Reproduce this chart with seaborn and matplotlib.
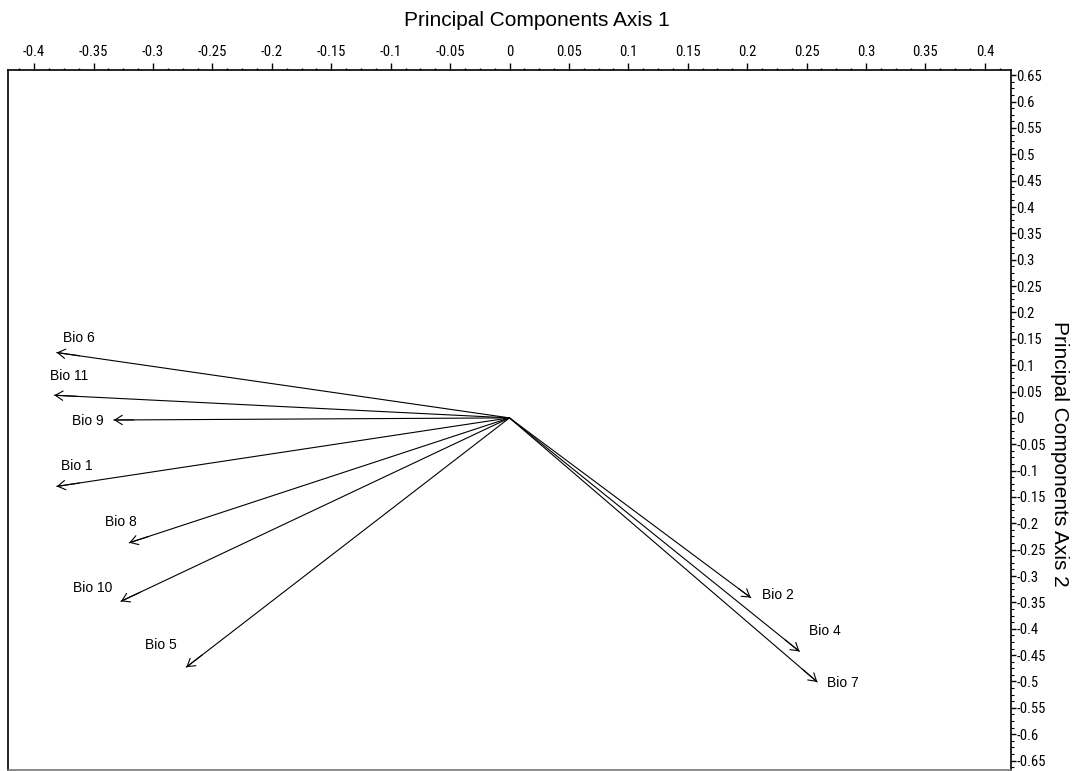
import matplotlib
matplotlib.use("Agg")
import matplotlib.pyplot as plt
from matplotlib import font_manager
from matplotlib.ticker import MultipleLocator, FixedLocator, FuncFormatter
import numpy as np
import pandas as pd
import seaborn as sns

# Loadings of the bioclimatic variables on the first two principal components
variables = ["Bio 6", "Bio 11", "Bio 9", "Bio 1", "Bio 8", "Bio 10", "Bio 5",
             "Bio 2", "Bio 4", "Bio 7"]
pc1 = [-0.381, -0.383, -0.333, -0.381, -0.320, -0.327, -0.272, 0.203, 0.244, 0.259]
pc2 = [0.124, 0.043, -0.004, -0.130, -0.237, -0.348, -0.473, -0.341, -0.443, -0.501]

# Label placement relative to each arrow tip (pixels) and alignment
label_dx = [6, -4, -10, 4, -24, -48, -41, 11, 10, 10]
label_dy = [15, 19, -1, 20, 21, 13, 22, 3, 20, -1]
label_ha = ["left", "left", "right", "left", "left", "left", "left", "left", "left", "left"]

x_ticks = np.round(np.arange(-0.4, 0.4001, 0.05), 2)
y_ticks = np.round(np.arange(-0.65, 0.6501, 0.05), 2)

sns.set_theme(style="white")
avail = {f.name for f in font_manager.fontManager.ttflist}
narrow = next((f for f in ["Liberation Sans Narrow", "DejaVu Sans Condensed",
                           "Roboto Condensed", "Liberation Sans"] if f in avail),
              "DejaVu Sans")
plt.rcParams["font.family"] = ["Liberation Sans", "DejaVu Sans"]

W, H = 1074, 771
fig = plt.figure(figsize=(W / 100, H / 100), dpi=100)
ax = fig.add_axes([8 / W, 1 / H, (1011 - 8) / W, (770 - 70) / H])

# Arrow shafts from the origin to each loading
rows = []
for v, x, y in zip(variables, pc1, pc2):
    rows.append({"var": v, "step": 0, "x": 0.0, "y": 0.0})
    rows.append({"var": v, "step": 1, "x": x, "y": y})
seg = pd.DataFrame(rows)
sns.lineplot(data=seg, x="x", y="y", units="var", estimator=None, sort=False,
             color="black", linewidth=0.8, ax=ax, legend=False)

# Open arrowheads and variable labels
for v, x, y, dx, dy, ha in zip(variables, pc1, pc2, label_dx, label_dy, label_ha):
    ax.annotate("", xy=(x, y), xytext=(x * 0.95, y * 0.95),
                arrowprops=dict(arrowstyle="->,head_length=0.45,head_width=0.28",
                                color="black", lw=0.8, shrinkA=0, shrinkB=0))
    ax.annotate(v, xy=(x, y), xytext=(dx, dy), textcoords="offset pixels",
                ha=ha, va="center", fontsize=10, color="black")

ax.set_xlim(-0.422, 0.422)
ax.set_ylim(-0.668, 0.66)

ax.xaxis.tick_top()
ax.yaxis.tick_right()

ax.xaxis.set_major_locator(FixedLocator(x_ticks))
ax.xaxis.set_minor_locator(MultipleLocator(0.0125))
ax.yaxis.set_major_locator(FixedLocator(y_ticks))
ax.yaxis.set_minor_locator(MultipleLocator(0.0125))

fmt = FuncFormatter(lambda v, p: "0" if abs(v) < 1e-9 else ("%g" % v))
ax.xaxis.set_major_formatter(fmt)
ax.yaxis.set_major_formatter(fmt)

ax.tick_params(axis="x", which="major", direction="out", length=5, width=1,
               color="black", pad=3, labelsize=10.5, labelcolor="black")
ax.tick_params(axis="x", which="minor", direction="out", length=1.5, width=1, color="black")
ax.tick_params(axis="y", which="major", direction="out", length=3.5, width=1,
               color="black", pad=0.5, labelsize=10.5, labelcolor="black")
ax.tick_params(axis="y", which="minor", direction="out", length=2, width=0.8, color="black")
for lab in ax.get_xticklabels() + ax.get_yticklabels():
    lab.set_fontfamily(narrow)

for s in ax.spines.values():
    s.set_visible(True)
    s.set_color("black")
    s.set_linewidth(1.2)
ax.spines["bottom"].set_color("#777777")
ax.set_xlabel("")
ax.set_ylabel("")

# Axis titles
fig.text(0.5, 1 - 20 / H, "Principal Components Axis 1", ha="center", va="center",
         fontsize=15, color="black")
fig.text(1060 / W, 1 - 454 / H, "Principal Components Axis 2", ha="center", va="center",
         rotation=270, fontsize=15, color="black")

fig.savefig("out.png", dpi=100)
